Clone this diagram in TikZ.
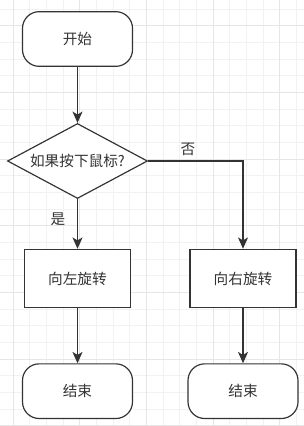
\documentclass[tikz,border=0pt]{standalone}
\usepackage{fontspec}
\usepackage{tikz}
\usetikzlibrary{arrows.meta,positioning,shapes.geometric}
\newfontfamily\cjk{Noto Sans CJK SC}
\definecolor{linecol}{RGB}{51,51,51}
\definecolor{gridminor}{RGB}{242,242,242}
\definecolor{gridmajor}{RGB}{230,230,230}

\begin{document}
\begin{tikzpicture}[
   >={Stealth[length=3.4mm, width=3mm, inset=0.9mm]}, node distance=1.6cm,
   base/.style={draw=linecol, line width=1pt, fill=white, text=linecol, align=center,
                font=\cjk\fontsize{12.5}{15}\selectfont},
   term/.style={base, rounded corners=5mm, minimum width=3.3cm, minimum height=1.64cm},
   proc/.style={base, minimum width=3.18cm, minimum height=1.75cm},
   cond/.style={base, diamond, aspect=1.87, inner sep=0pt,
                minimum width=4.2cm, minimum height=2.25cm},
   flow/.style={->, draw=linecol, line width=1pt},
   lbl/.style={font=\cjk\fontsize{12.5}{15}\selectfont, text=linecol, inner sep=0pt},
]
% page and grid
\useasboundingbox (-2.325,1.17) rectangle (6.795,-11.61);
\clip (-2.325,1.17) rectangle (6.795,-11.61);
\fill[white] (-2.325,1.17) rectangle (6.795,-11.61);
\begin{scope}[shift={(0.074,0.4)}]
\draw[gridminor, line width=0.8pt, step=0.5cm] (-3,-12.5) grid (7,1.5);
\draw[gridmajor, line width=0.8pt, step=2cm] (-4,-14) grid (8,2);
\end{scope}
% column 1
\node[term] (start) at (0,0) {开始};
\node[cond, below=1.68cm of start] (ask) {如果按下鼠标?};
\node[proc, below=1.49cm of ask] (turnl) {向左旋转};
\node[term, below=1.65cm of turnl] (endl) {结束};
% column 2
\node[proc, right=1.75cm of turnl] (turnr) {向右旋转};
\node[term, below=1.65cm of turnr] (endr) {结束};
% edges
\draw[flow] (start) -- (ask);
\draw[flow] (ask) -- node[lbl, pos=0.4, left=3.5mm] {是} (turnl);
\draw[flow] (ask.east) -| node[lbl, pos=0.21, above=1.3mm] {否} (turnr);
\draw[flow] (turnl) -- (endl);
\draw[flow] (turnr) -- (endr);
\end{tikzpicture}
\end{document}
